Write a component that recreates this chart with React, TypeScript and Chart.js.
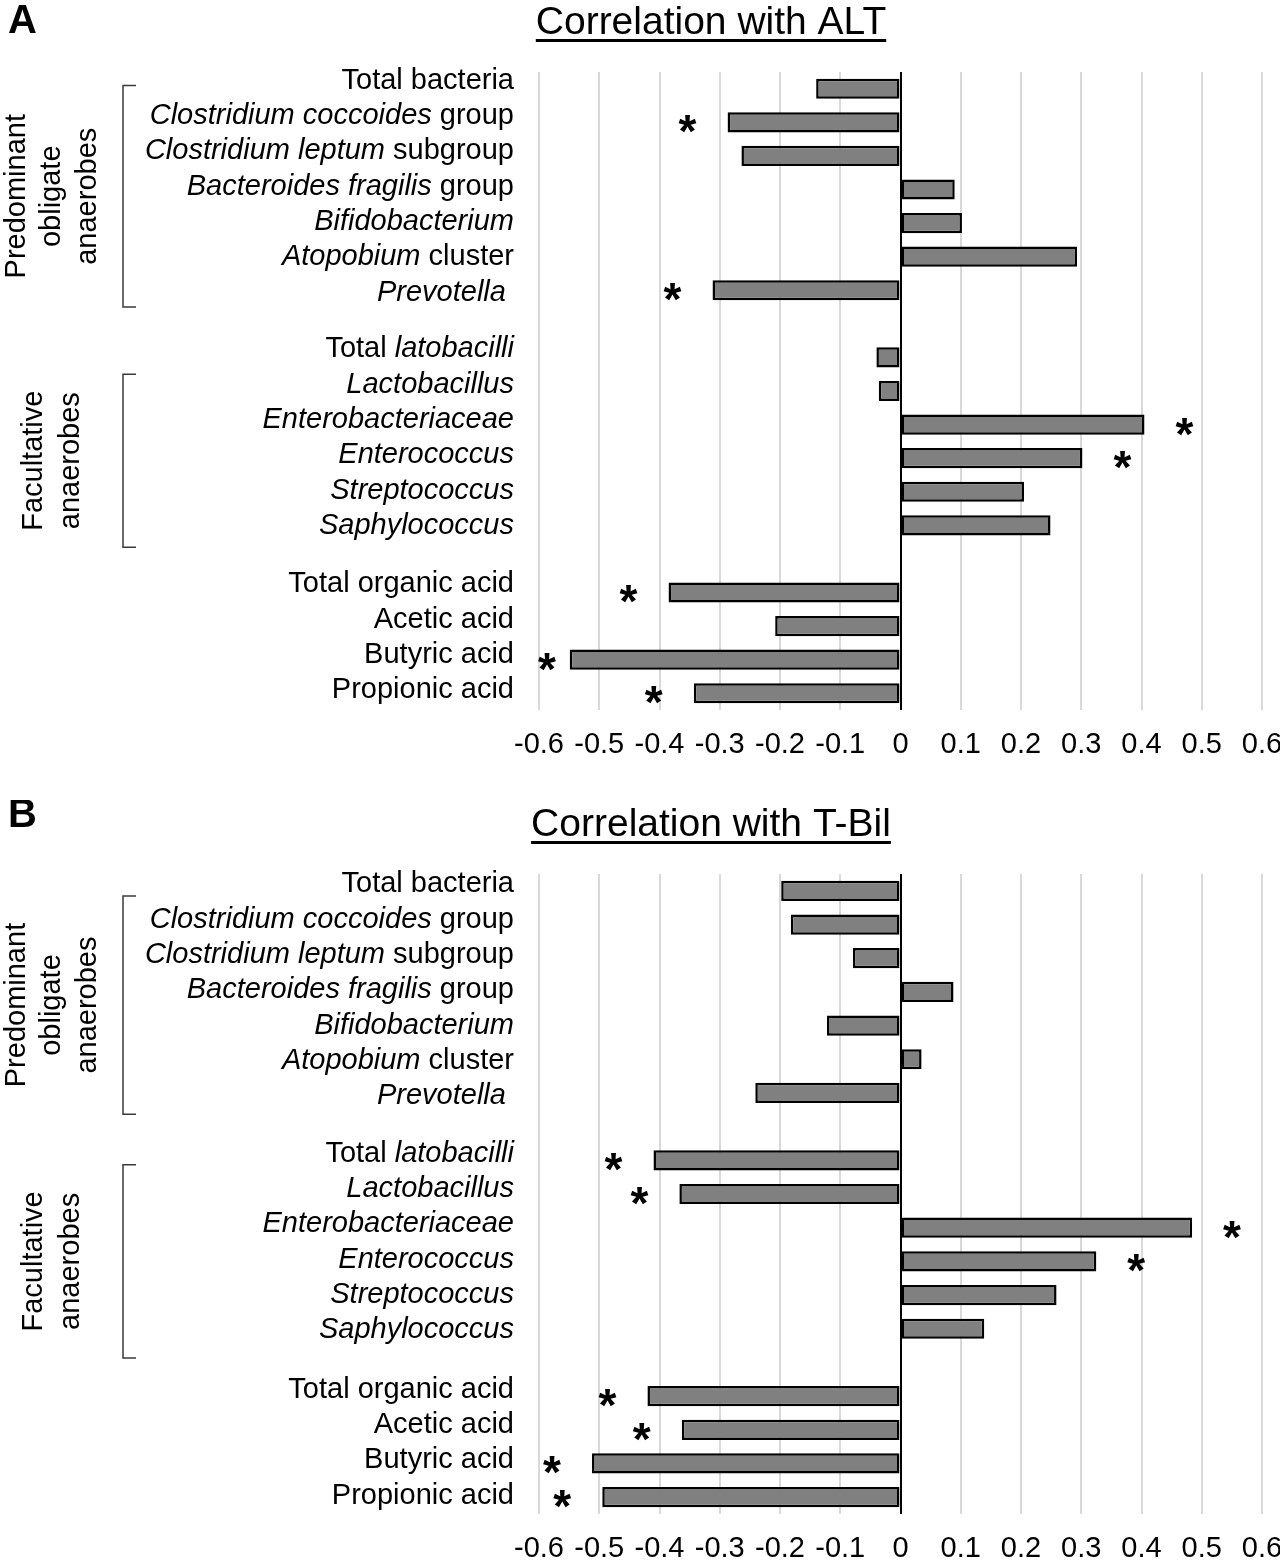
import React, { useEffect, useRef } from 'react';
import { Chart, registerables } from 'chart.js';

Chart.register(...registerables);

const FONT = '"Liberation Sans", Arial, Helvetica, sans-serif';

// Category labels as [text, italic] segments (empty = spacer row)
const categoryLabels: [string, boolean][][] = [
  [['Total bacteria', false]],
  [['Clostridium coccoides', true], [' group', false]],
  [['Clostridium leptum', true], [' subgroup', false]],
  [['Bacteroides fragilis', true], [' group', false]],
  [['Bifidobacterium', true]],
  [['Atopobium', true], [' cluster', false]],
  [['Prevotella', true], [' ', false]],
  [],
  [['Total ', false], ['latobacilli', true]],
  [['Lactobacillus', true]],
  [['Enterobacteriaceae', true]],
  [['Enterococcus', true]],
  [['Streptococcus', true]],
  [['Saphylococcus', true]],
  [],
  [['Total organic acid', false]],
  [['Acetic acid', false]],
  [['Butyric acid', false]],
  [['Propionic acid', false]],
];

const altValues: (number | null)[] = [
  -0.14, -0.287, -0.264, 0.09, 0.102, 0.293, -0.312, null,
  -0.04, -0.036, 0.405, 0.302, 0.205, 0.249, null,
  -0.385, -0.208, -0.549, -0.343,
];
const altSignificant: boolean[] = [
  false, true, false, false, false, false, true, false,
  false, false, true, true, false, false, false,
  true, false, true, true,
];

const tbilValues: (number | null)[] = [
  -0.198, -0.182, -0.079, 0.088, -0.122, 0.035, -0.241, null,
  -0.41, -0.367, 0.484, 0.325, 0.259, 0.139, null,
  -0.42, -0.363, -0.512, -0.495,
];
const tbilSignificant: boolean[] = [
  false, false, false, false, false, false, false, false,
  true, true, true, true, false, false, false,
  true, true, true, true,
];

const xTickLabels = ['-0.6', '-0.5', '-0.4', '-0.3', '-0.2', '-0.1', '0', '0.1', '0.2', '0.3', '0.4', '0.5', '0.6'];

const groupLabels: string[][] = [
  ['Predominant', 'obligate', 'anaerobes'],
  ['Facultative', 'anaerobes'],
];

// label text blocks (first index, last index)
const labelBlocks: [number, number][] = [[0, 6], [8, 13], [15, 18]];

type PanelCfg = {
  letter: string;
  title: string;
  values: (number | null)[];
  sig: boolean[];
  top: number;
  height: number;
  plotTop: number;
  plotBottom: number;
  letterBaseline: number;
  titleBaseline: number;
  brackets: [number, number][];
  groupBaselines: number[][];
  labelShift: number;
  labelLine: number;
};

const panels: PanelCfg[] = [
  {
    letter: 'A', title: 'Correlation with ALT', values: altValues, sig: altSignificant,
    top: 0, height: 800, plotTop: 72, plotBottom: 710, letterBaseline: 33, titleBaseline: 34,
    brackets: [[-0.1, 6.5], [8.5, 13.65]], groupBaselines: [[25, 60, 96], [42, 79]],
    labelShift: -8, labelLine: 35.3,
  },
  {
    letter: 'B', title: 'Correlation with T-Bil', values: tbilValues, sig: tbilSignificant,
    top: 800, height: 762, plotTop: 74, plotBottom: 714, letterBaseline: 27, titleBaseline: 36,
    brackets: [[0.15, 6.63], [8.13, 13.87]], groupBaselines: [[25, 60, 96], [42, 79]],
    labelShift: -6.5, labelLine: 35.3,
  },
];

function makePlugin(cfg: PanelCfg) {
  return {
    id: 'panelDecor' + cfg.letter,
    afterDraw(chart: any) {
      const ctx: CanvasRenderingContext2D = chart.ctx;
      const xs = chart.scales.x;
      const ys = chart.scales.y;
      const area = chart.chartArea;
      const y0 = ys.getPixelForValue(0);
      const slot = ys.getPixelForValue(1) - y0;
      ctx.save();
      ctx.fillStyle = '#000';

      // panel letter
      ctx.font = `bold 40px ${FONT}`;
      ctx.textAlign = 'left';
      ctx.textBaseline = 'alphabetic';
      ctx.fillText(cfg.letter, 8, cfg.letterBaseline);

      // title + underline
      ctx.font = `39px ${FONT}`;
      const tw = ctx.measureText(cfg.title).width;
      const tx = 711 - tw / 2;
      ctx.fillText(cfg.title, tx, cfg.titleBaseline);
      ctx.fillRect(tx, cfg.titleBaseline + 5, tw, 3);

      // category labels (mixed italic)
      ctx.textBaseline = 'middle';
      labelBlocks.forEach(([a, b]) => {
        const startY = ys.getPixelForValue(a) + cfg.labelShift;
        for (let i = a; i <= b; i++) {
          const segs = categoryLabels[i];
          const y = startY + (i - a) * cfg.labelLine;
          let total = 0;
          segs.forEach(([t, it]) => {
            ctx.font = `${it ? 'italic ' : ''}29px ${FONT}`;
            total += ctx.measureText(t).width;
          });
          let x = 514 - total;
          segs.forEach(([t, it]) => {
            ctx.font = `${it ? 'italic ' : ''}29px ${FONT}`;
            ctx.fillText(t, x, y);
            x += ctx.measureText(t).width;
          });
        }
      });

      // x tick labels
      ctx.font = `29px ${FONT}`;
      ctx.textAlign = 'center';
      ctx.textBaseline = 'middle';
      xs.ticks.forEach((tk: any, i: number) => {
        const lbl = xTickLabels[i];
        if (lbl === undefined) return;
        ctx.fillText(lbl, xs.getPixelForValue(tk.value), area.bottom + 35);
      });

      // brackets + group labels
      cfg.brackets.forEach(([s0, s1], gi) => {
        const top = y0 + s0 * slot;
        const bot = y0 + s1 * slot;
        ctx.strokeStyle = '#3a3a3a';
        ctx.lineWidth = 1.5;
        ctx.beginPath();
        ctx.moveTo(136, top);
        ctx.lineTo(123, top);
        ctx.lineTo(123, bot);
        ctx.lineTo(136, bot);
        ctx.stroke();
        const cy = (top + bot) / 2;
        ctx.font = `29px ${FONT}`;
        ctx.textAlign = 'center';
        ctx.textBaseline = 'alphabetic';
        groupLabels[gi].forEach((line, li) => {
          ctx.save();
          ctx.translate(cfg.groupBaselines[gi][li], cy);
          ctx.rotate(-Math.PI / 2);
          ctx.fillText(line, 0, 0);
          ctx.restore();
        });
      });

      // significance asterisks
      ctx.font = `bold 46px ${FONT}`;
      ctx.textAlign = 'left';
      ctx.textBaseline = 'alphabetic';
      const m = ctx.measureText('*');
      cfg.values.forEach((v, i) => {
        if (v === null || !cfg.sig[i]) return;
        const end = xs.getPixelForValue(v);
        let cx = v >= 0 ? end + 40 : end - 40;
        cx = Math.max(cx, area.left + 8);
        const cy = ys.getPixelForValue(i) + 2;
        const dx = cx - (m.actualBoundingBoxRight - m.actualBoundingBoxLeft) / 2;
        const dy = cy + (m.actualBoundingBoxAscent - m.actualBoundingBoxDescent) / 2;
        ctx.fillText('*', dx, dy);
      });

      ctx.restore();
    },
  };
}

function PanelChart({ cfg }: { cfg: PanelCfg }) {
  const ref = useRef<HTMLCanvasElement>(null);
  useEffect(() => {
    if (!ref.current) return;
    const labels = categoryLabels.map((segs) => segs.map((s) => s[0]).join(''));
    const chart = new Chart(ref.current, {
      type: 'bar',
      data: {
        labels,
        datasets: [
          {
            data: cfg.values as any,
            backgroundColor: '#808080',
            borderColor: '#000000',
            borderWidth: 2.5,
            borderSkipped: false,
            barPercentage: 0.6,
            categoryPercentage: 1,
          },
        ],
      },
      options: {
        animation: false,
        responsive: false,
        indexAxis: 'y',
        layout: {
          padding: {
            top: cfg.plotTop,
            bottom: cfg.height - cfg.plotBottom,
            left: 539,
            right: 18,
          },
        },
        plugins: {
          legend: { display: false },
          tooltip: { enabled: false },
        },
        scales: {
          x: {
            type: 'linear',
            min: -0.6,
            max: 0.6,
            ticks: { display: false, stepSize: 0.1 },
            grid: {
              drawTicks: false,
              color: (c: any) => (Math.abs(c.tick?.value ?? 1) < 1e-9 ? '#000000' : '#d9d9d9'),
              lineWidth: 2,
            },
            border: { display: false },
          },
          y: {
            type: 'category',
            display: false,
          },
        },
      },
      plugins: [makePlugin(cfg)],
    });
    return () => chart.destroy();
  }, [cfg]);
  return (
    <canvas
      ref={ref}
      width={1280}
      height={cfg.height}
      style={{ position: 'absolute', left: 0, top: cfg.top, width: 1280, height: cfg.height }}
    />
  );
}

export default function App() {
  return (
    <div style={{ position: 'absolute', left: 0, top: 0, width: 1280, height: 1562, background: '#fff' }}>
      {panels.map((p) => (
        <PanelChart key={p.letter} cfg={p} />
      ))}
    </div>
  );
}
